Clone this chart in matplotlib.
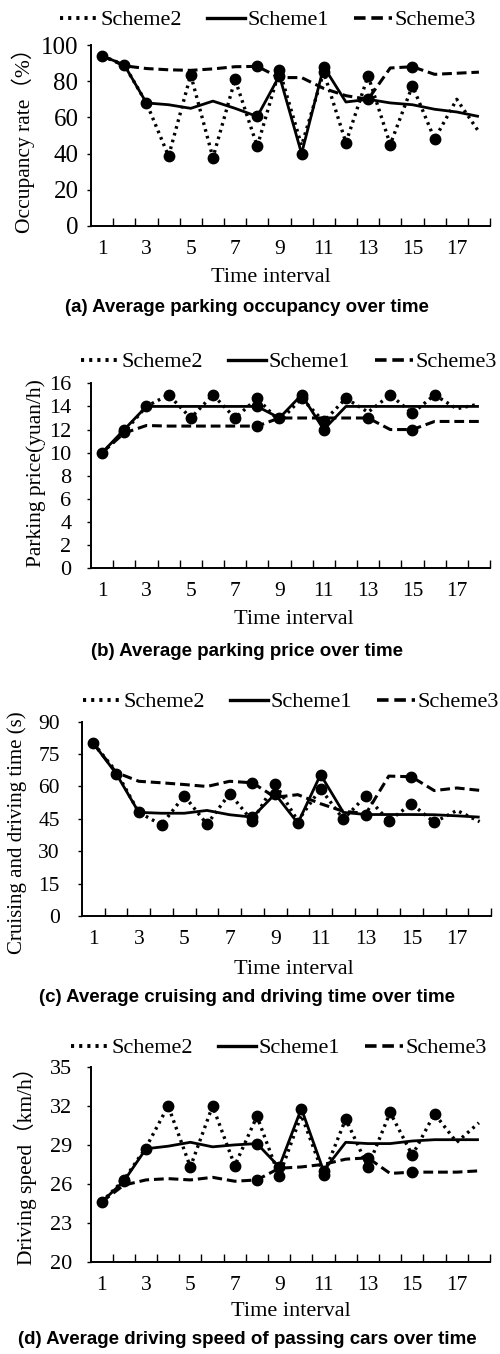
import matplotlib
matplotlib.use("Agg")
import matplotlib.pyplot as plt
from matplotlib.lines import Line2D
import numpy as np

# ---------------- data ----------------
intervals = list(range(1, 19))
tick_labels = ["1", "3", "5", "7", "9", "11", "13", "15", "17"]
series_names = ["Scheme2", "Scheme1", "Scheme3"]

occ_s1 = [94, 89, 68, 67, 65, 69, 65, 60.5, 83, 40, 88, 68.5, 70, 68, 67, 64.5, 63, 60.5]
occ_s2 = [94, 89, 68, 38.6, 83.5, 37.7, 81, 44, 86, 44.5, 85, 46, 83, 45, 77.5, 48, 70, 52]
occ_s3 = [94, 88.5, 87, 86.3, 86, 86.8, 88, 88.2, 82, 82, 76, 72, 70, 87.3, 88, 83.8, 84.4, 85]

price_s1 = [10, 12, 14, 14, 14, 14, 14, 14, 13, 15, 12, 14, 14, 14, 14, 14, 14, 14]
price_s2 = [10, 11.8, 14, 15, 13, 15, 13, 14.7, 12.7, 14.7, 12.7, 14.7, 13.5, 15, 13.4, 15, 13.8, 14.2]
price_s3 = [10, 11.7, 12.35, 12.3, 12.3, 12.3, 12.3, 12.3, 13, 13, 13, 13, 13, 12, 12, 12.7, 12.7, 12.7]

time_s1 = [80, 66, 48, 47.6, 47.6, 48.9, 46.9, 45.8, 56.5, 43, 65.5, 48, 47, 47, 47, 46.9, 46.4, 45.8]
time_s2 = [80, 67, 48, 42.2, 55.7, 42.5, 56.7, 44, 61.3, 44, 59, 44.8, 55.7, 44, 52, 43.4, 48.9, 43.7]
time_s3 = [80, 66.5, 62.4, 61.7, 60.9, 60, 62.4, 61.7, 55, 56.2, 52, 48.5, 47.5, 64.8, 64.5, 58.1, 59.3, 58.2]

speed_s1 = [24.6, 26.2, 28.7, 28.9, 29.2, 28.85, 29, 29.1, 27.3, 31.8, 27.0, 29.2, 29.1, 29.1, 29.3, 29.4, 29.4, 29.4]
speed_s2 = [24.6, 26.3, 28.8, 32, 27.3, 32, 27.4, 31.2, 26.6, 31.3, 26.7, 31, 27.3, 31.5, 28.2, 31.4, 29.2, 30.7]
speed_s3 = [24.6, 25.9, 26.3, 26.4, 26.3, 26.5, 26.2, 26.3, 27.2, 27.3, 27.5, 27.9, 28, 26.8, 26.9, 26.9, 26.9, 27.0]

# which points (1-based interval) carry a round marker, per panel
occ_marks_s1 = [1, 2, 3, 8, 9, 10, 11, 13]
occ_marks_s2 = [4, 5, 6, 7, 8, 9, 11, 12, 13, 14, 15, 16]
occ_marks_s3 = [8, 15]
price_marks_s1 = [1, 2, 3, 8, 9, 10, 11]
price_marks_s2 = [2, 4, 5, 6, 7, 8, 10, 11, 12, 14, 15, 16]
price_marks_s3 = [8, 13, 15]
time_marks_s1 = [1, 2, 3, 8, 9, 10, 11, 13]
time_marks_s2 = [4, 5, 6, 7, 8, 9, 11, 12, 13, 14, 15, 16]
time_marks_s3 = [8, 15]
speed_marks_s1 = [1, 2, 3, 8, 9, 10, 11]
speed_marks_s2 = [2, 4, 5, 6, 7, 8, 9, 11, 12, 13, 14, 15, 16]
speed_marks_s3 = [8, 13, 15]

ylabels = ["Occupancy rate\uff08%\uff09", "Parking price(yuan/h)",
           "Cruising and driving time (s)", "Driving speed\uff08km/h\uff09"]
captions = ["(a) Average parking occupancy over time",
            "(b) Average parking price over time",
            "(c) Average cruising and driving time over time",
            "(d) Average driving speed of passing cars over time"]

# ---------------- layout (pixels) ----------------
W, H = 500, 1354
fig = plt.figure(figsize=(W / 100, H / 100), dpi=100)

SERIF = ["Liberation Serif", "Noto Sans CJK SC", "DejaVu Serif"]

def fx(x):
    return x / W

def fy(y):
    return 1 - y / H

panels = [
    dict(data=(occ_s2, occ_s1, occ_s3), marks=(occ_marks_s2, occ_marks_s1, occ_marks_s3),
         ylim=(0, 100), yticks=np.arange(0, 101, 20), ytsize=18,
         box=(91, 490, 45, 226), xmax=18.5, ypad=6, ylab=(23, 135.5, 15.5),
         leg_y=20, leg_cx=268, xl=(271, 277), cap_y=308),
    dict(data=(price_s2, price_s1, price_s3), marks=(price_marks_s2, price_marks_s1, price_marks_s3),
         ylim=(0, 16), yticks=np.arange(0, 17, 2), ytsize=16,
         box=(91, 490, 383.3, 568.3), xmax=18.5, ypad=11, ylab=(36, 473, 15.5),
         leg_y=362, leg_cx=289, xl=(294, 619), cap_y=652),
    dict(data=(time_s2, time_s1, time_s3), marks=(time_marks_s2, time_marks_s1, time_marks_s3),
         ylim=(0, 90), yticks=np.arange(0, 91, 15), ytsize=15.5,
         box=(82, 491, 721.7, 916), xmax=18.05, ypad=13, ylab=(17, 833, 15),
         leg_y=702, leg_cx=291, xl=(294, 970), cap_y=997),
    dict(data=(speed_s2, speed_s1, speed_s3), marks=(speed_marks_s2, speed_marks_s1, speed_marks_s3),
         ylim=(20, 35), yticks=np.arange(20, 36, 3), ytsize=16,
         box=(90.5, 490, 1067, 1261.7), xmax=18.5, ypad=10, ylab=(25, 1161, 15.5),
         leg_y=1048, leg_cx=279, xl=(291, 1312), cap_y=1340),
]

styles = [
    dict(linestyle=(0, (0.8, 1.3)), linewidth=2.4),
    dict(linestyle="-", linewidth=2.0),
    dict(linestyle=(0, (3.2, 1.6)), linewidth=2.2),
]

for i, p in enumerate(panels):
    l, r, t, b = p["box"]
    ax = fig.add_axes([fx(l), fy(b), (r - l) / W, (b - t) / H])
    handles = []
    for name, vals, marks, st in zip(series_names, p["data"], p["marks"], styles):
        ax.plot(intervals, vals, color="black", linestyle=st["linestyle"],
                linewidth=st["linewidth"], solid_capstyle="butt", zorder=2)
        idx = [k - 1 for k in marks]
        ax.plot([intervals[k] for k in idx], [vals[k] for k in idx], "o",
                color="black", markersize=7.5, zorder=3)
        handles.append(Line2D([0], [0], color="black", linestyle=st["linestyle"],
                              linewidth=st["linewidth"] + 0.4))
    ax.set_xlim(0.5, p["xmax"])
    ax.set_ylim(*p["ylim"])
    ax.set_yticks(p["yticks"])
    ax.set_xticks(range(1, 18, 2))
    ax.set_xticklabels(tick_labels)
    ax.set_xticks(np.arange(1.5, 18.6, 1.0), minor=True)
    for s in ("top", "right"):
        ax.spines[s].set_visible(False)
    for s in ("left", "bottom"):
        ax.spines[s].set_linewidth(1.4)
    ax.tick_params(axis="x", which="major", length=0, pad=10)
    ax.tick_params(axis="x", which="minor", direction="in", length=5.5, width=1.0)
    ax.tick_params(axis="y", which="major", direction="out", length=3, width=1.0,
                   pad=p["ypad"])
    for lab in ax.get_xticklabels():
        lab.set_family(SERIF)
        lab.set_fontsize(15.5)
    for lab in ax.get_yticklabels():
        lab.set_family(SERIF)
        lab.set_fontsize(p["ytsize"])
    yx, yy, ys = p["ylab"]
    fig.text(fx(yx), fy(yy), ylabels[i], rotation=90,
             ha="center", va="center", fontsize=ys, family=SERIF)
    fig.text(fx(p["xl"][0]), fy(p["xl"][1]), "Time interval", ha="center",
             va="center", fontsize=16, family=SERIF)
    fig.text(fx(247), fy(p["cap_y"]), captions[i], ha="center", va="center",
             fontsize=13.5, fontweight="bold", family=["Liberation Sans", "DejaVu Sans"])
    fig.legend(handles, series_names, loc="center",
               bbox_to_anchor=(fx(p["leg_cx"]), fy(p["leg_y"])),
               bbox_transform=fig.transFigure, ncol=3, frameon=False,
               prop={"family": SERIF, "size": 16}, handlelength=1.7,
               handletextpad=0.15, columnspacing=1.1, borderpad=0,
               borderaxespad=0)

fig.savefig("out.png", dpi=100)
